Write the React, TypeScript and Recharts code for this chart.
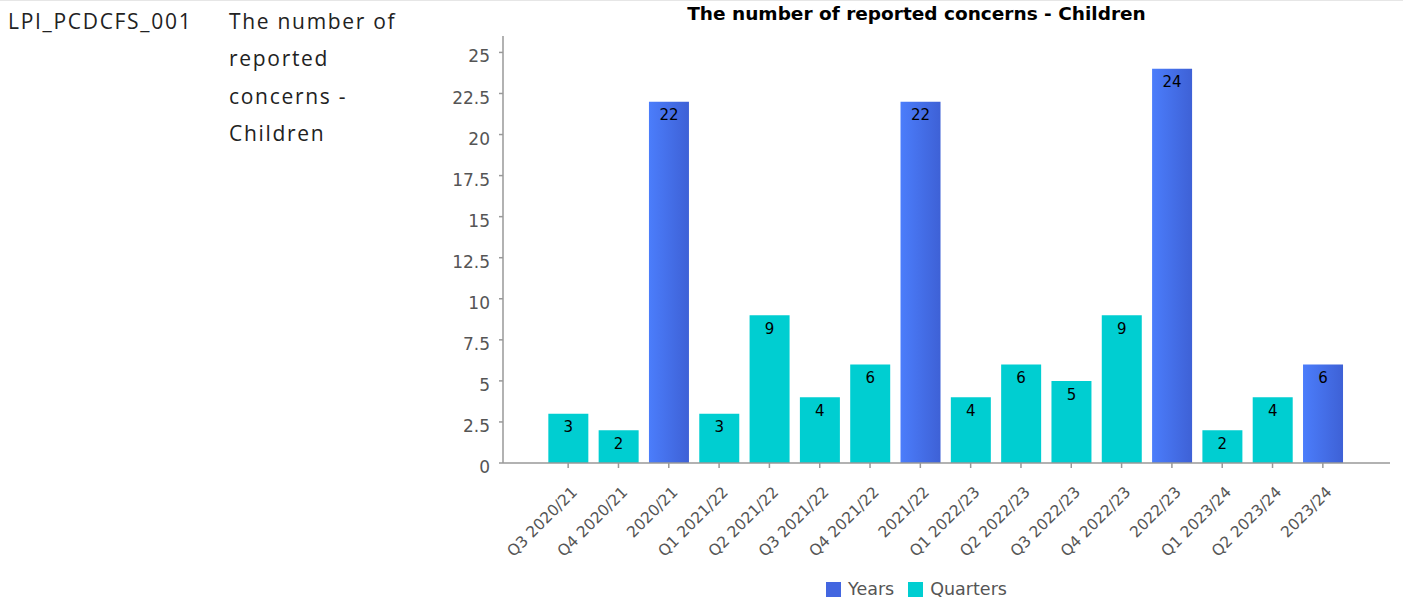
import React from "react";
import { BarChart, Bar, XAxis, YAxis, LabelList } from "recharts";

const categories = [
  "Q3 2020/21", "Q4 2020/21", "2020/21", "Q1 2021/22", "Q2 2021/22", "Q3 2021/22",
  "Q4 2021/22", "2021/22", "Q1 2022/23", "Q2 2022/23", "Q3 2022/23", "Q4 2022/23",
  "2022/23", "Q1 2023/24", "Q2 2023/24", "2023/24",
];
const yearsValues: (number | null)[] = [
  null, null, 22, null, null, null, null, 22, null, null, null, null, 24, null, null, 6,
];
const quartersValues: (number | null)[] = [
  3, 2, null, 3, 9, 4, 6, null, 4, 6, 5, 9, null, 2, 4, null,
];
const yTicks = [0, 2.5, 5, 7.5, 10, 12.5, 15, 17.5, 20, 22.5, 25];
const seriesNames = ["Years", "Quarters"];
const seriesColors = ["#4366e0", "#00ced1"];
const title = "The number of reported concerns - Children";
const indicatorCode = "LPI_PCDCFS_001";
const indicatorLines = ["The number of", "reported", "concerns -", "Children"];

const data = categories.map((name, i) => ({
  name,
  years: yearsValues[i],
  quarters: quartersValues[i],
}));

const FONT = "'DejaVu Sans', Verdana, sans-serif";

const XTick = (props: any) => {
  const { x, y, payload } = props;
  return (
    <g transform={`translate(${x + 10},${y + 25})`}>
      <text x={0} y={0} textAnchor="end" transform="rotate(-45)" fill="#555" fontSize={15.5} fontFamily={FONT}>
        {payload.value}
      </text>
    </g>
  );
};

const YTick = (props: any) => {
  const { x, y, payload } = props;
  return (
    <text x={x} y={y + 4} dy="0.355em" textAnchor="end" fill="#555" fontSize={17} fontFamily={FONT}>
      {payload.value}
    </text>
  );
};

const sideText: React.CSSProperties = {
  position: "absolute", top: 2.5, fontFamily: "'Open Sans', sans-serif",
  fontSize: 21, lineHeight: "37.5px", color: "#222", letterSpacing: 1.7, whiteSpace: "nowrap",
};

export default function App() {
  return (
    <div style={{ position: "absolute", left: 0, top: 0, width: 1403, height: 601, background: "#fff" }}>
      <div style={{ position: "absolute", left: 0, top: 0, width: 1403, height: 1, background: "#e6e6e6" }} />
      <div style={{ ...sideText, left: 8 }}>{indicatorCode}</div>
      <div style={{ ...sideText, left: 229 }}>
        {indicatorLines.map((l, i) => (
          <div key={i}>{l}</div>
        ))}
      </div>
      <div
        style={{
          position: "absolute", left: 440, top: 3, width: 953, textAlign: "center",
          fontFamily: FONT, fontWeight: "bold", fontSize: 18.5, lineHeight: "21px", color: "#000", whiteSpace: "nowrap",
        }}
      >
        {title}
      </div>
      <div style={{ position: "absolute", left: 440, top: 0 }}>
        <BarChart
          width={953}
          height={601}
          data={data}
          margin={{ top: 36, right: 3, bottom: 28, left: 8 }}
          barCategoryGap="10.6%"
        >
          <defs>
            <linearGradient id="yearsGrad" x1="0" y1="0" x2="1" y2="0">
              <stop offset="0" stopColor="#4b7dfb" />
              <stop offset="1" stopColor="#3e61d6" />
            </linearGradient>
          </defs>
          <XAxis
            dataKey="name"
            interval={0}
            height={110}
            padding={{ left: 40, right: 42 }}
            tick={<XTick />}
            tickSize={5}
            tickMargin={0}
            axisLine={{ stroke: "#999", strokeWidth: 1.5 }}
            tickLine={{ stroke: "#999", strokeWidth: 1.5 }}
          />
          <YAxis
            width={55}
            domain={[0, 26]}
            ticks={yTicks}
            interval={0}
            tick={<YTick />}
            tickSize={4}
            tickMargin={9}
            axisLine={{ stroke: "#999", strokeWidth: 1.5 }}
            tickLine={{ stroke: "#999", strokeWidth: 1.5 }}
          />
          <Bar dataKey="years" name={seriesNames[0]} stackId="a" fill="url(#yearsGrad)" isAnimationActive={false}>
            <LabelList dataKey="years" position="insideTop" offset={8} fill="#000" fontSize={15} fontFamily={FONT} />
          </Bar>
          <Bar dataKey="quarters" name={seriesNames[1]} stackId="a" fill={seriesColors[1]} isAnimationActive={false}>
            <LabelList dataKey="quarters" position="insideTop" offset={8} fill="#000" fontSize={15} fontFamily={FONT} />
          </Bar>
        </BarChart>
      </div>
      <div
        style={{
          position: "absolute", left: 440, top: 579, width: 953, display: "flex", justifyContent: "center",
          fontFamily: FONT, fontSize: 17.5, color: "#555", lineHeight: "20px",
        }}
      >
        {seriesNames.map((n, i) => (
          <div key={n} style={{ display: "flex", alignItems: "center", marginLeft: i === 0 ? 0 : 14 }}>
            <div style={{ width: 15, height: 15, background: seriesColors[i], marginRight: 7 }} />
            <span>{n}</span>
          </div>
        ))}
      </div>
    </div>
  );
}
